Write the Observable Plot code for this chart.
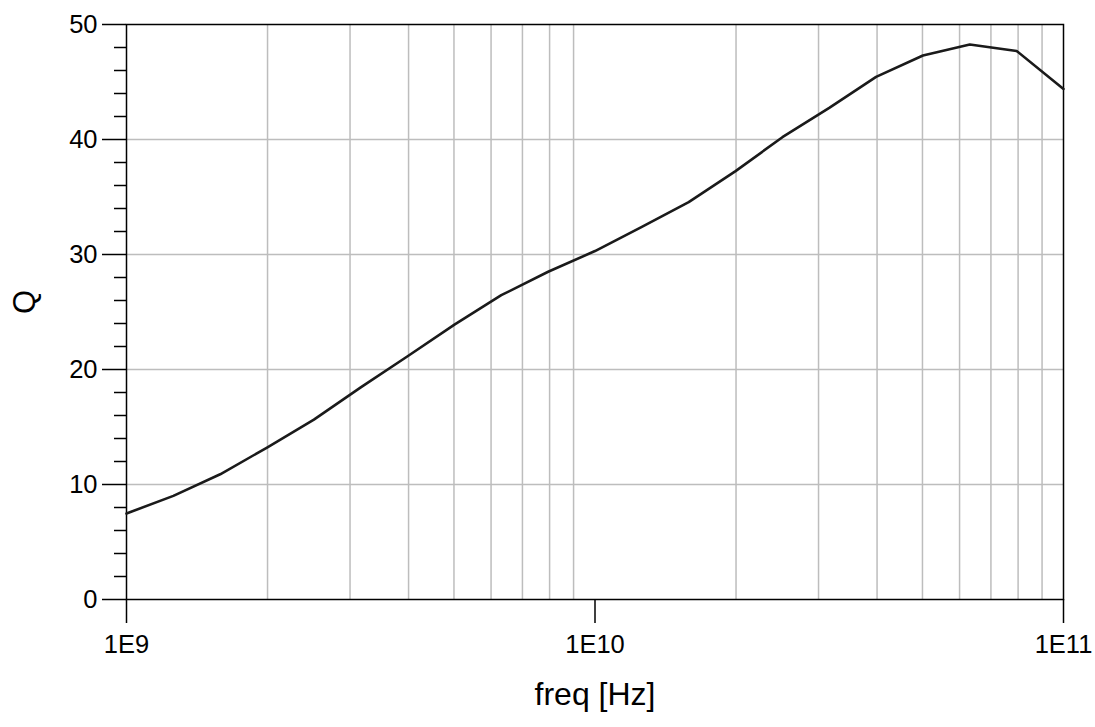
<!DOCTYPE html>
<html>
<head>
<meta charset="utf-8">
<script src="https://cdn.jsdelivr.net/npm/d3@7"></script>
<script src="https://cdn.jsdelivr.net/npm/@observablehq/plot@0.6"></script>
<style>
  html, body { margin: 0; padding: 0; background: #fff; }
  #chart { width: 1095px; height: 727px; }
</style>
</head>
<body>
<div id="chart"></div>
<script>
// Frequencies: 10 points per decade, exponent from 9.0 to 11.0
const exponents = [9.0, 9.1, 9.2, 9.3, 9.4, 9.5, 9.6, 9.7, 9.8, 9.9, 10.0,
                   10.1, 10.2, 10.3, 10.4, 10.5, 10.6, 10.7, 10.8, 10.9, 11.0];
const qValues = [7.48, 9.01, 10.89, 13.21, 15.64, 18.45, 21.15, 23.9, 26.46, 28.5, 30.3,
                 32.4, 34.56, 37.25, 40.2, 42.75, 45.45, 47.3, 48.26, 47.7, 44.4];

const xMajorTicks = [1e9, 1e10, 1e11];
const xTickLabels = ["1E9", "1E10", "1E11"];
const xGridValues = [2e9, 3e9, 4e9, 5e9, 6e9, 7e9, 8e9, 9e9,
                     2e10, 3e10, 4e10, 5e10, 6e10, 7e10, 8e10, 9e10];
const yMajorTicks = [0, 10, 20, 30, 40, 50];
const yGridValues = [10, 20, 30, 40];
const yMinorTicks = [2, 4, 6, 8, 12, 14, 16, 18, 22, 24, 26, 28, 32, 34, 36, 38, 42, 44, 46, 48];

const data = exponents.map((e, i) => ({freq: Math.pow(10, e), q: qValues[i]}));

const font = "'Liberation Sans', Arial, sans-serif";

const chart = Plot.plot({
  width: 1095,
  height: 727,
  marginLeft: 126,
  marginRight: 32,
  marginTop: 24,
  marginBottom: 128,
  style: {fontFamily: font, background: "#fff", color: "#000"},
  x: {type: "log", domain: [1e9, 1e11]},
  y: {domain: [0, 50]},
  marks: [
    Plot.gridX(xGridValues, {stroke: "#bdbdbd", strokeOpacity: 1, strokeWidth: 1.5}),
    Plot.gridY(yGridValues, {stroke: "#bdbdbd", strokeOpacity: 1, strokeWidth: 1.5}),
    Plot.axisY(yMinorTicks, {tickSize: 12, text: null, stroke: "#000", strokeWidth: 1.5, label: null}),
    Plot.axisY(yMajorTicks, {tickSize: 24, tickPadding: 5, fontSize: 25.5, stroke: "#000", strokeWidth: 1.5, label: null}),
    Plot.axisX(xMajorTicks, {tickSize: 24, tickPadding: 11, fontSize: 25.5, stroke: "#000", strokeWidth: 1.5, label: null,
      tickFormat: (d) => xTickLabels[xMajorTicks.indexOf(d)]}),
    Plot.frame({stroke: "#000", strokeWidth: 1.5}),
    Plot.line(data, {x: "freq", y: "q", stroke: "#1a1a1a", strokeWidth: 2.6}),
    Plot.text(["freq [Hz]"], {frameAnchor: "bottom", dy: 105, fontSize: 32, fill: "#000"}),
    Plot.text(["Q"], {frameAnchor: "left", dx: -101, dy: 2, rotate: -90, fontSize: 31, fill: "#000"})
  ]
});

document.getElementById("chart").appendChild(chart);
</script>
</body>
</html>
